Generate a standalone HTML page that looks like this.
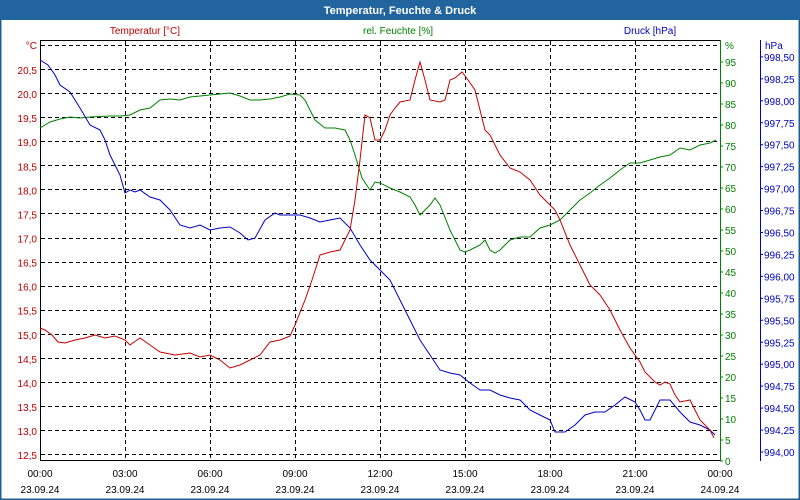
<!DOCTYPE html>
<html><head><meta charset="utf-8"><style>
body{margin:0;background:#fff}
svg{display:block;font-family:"Liberation Sans","DejaVu Sans",sans-serif}
</style></head><body>
<svg width="800" height="500" xmlns="http://www.w3.org/2000/svg" font-size="10">
<rect x="0" y="0" width="800" height="500" fill="#fff"/>
<rect x="0.5" y="0.5" width="799" height="499" fill="none" stroke="#1f5f98" stroke-width="2"/>
<rect x="0" y="0" width="800" height="20" fill="#22649e"/>
<text x="400" y="14" text-anchor="middle" fill="#fff" font-weight="bold" font-size="11">Temperatur, Feuchte &amp; Druck</text>
<text x="145" y="34" text-anchor="middle" fill="#c00000">Temperatur [°C]</text>
<text x="398" y="34" text-anchor="middle" fill="#008000">rel. Feuchte [%]</text>
<text x="650" y="34" text-anchor="middle" fill="#0000c0">Druck [hPa]</text>
<g stroke="#000" stroke-dasharray="4,3" stroke-width="1" fill="none" id="grid"></g>
<line x1="40" y1="40.5" x2="720" y2="40.5" stroke="#000"/>
<line x1="40.5" y1="40" x2="40.5" y2="460" stroke="#000"/>
<line x1="40" y1="460.5" x2="720" y2="460.5" stroke="#000"/>
<line x1="720.5" y1="40" x2="720.5" y2="461" stroke="#008000"/>
<line x1="760.5" y1="40" x2="760.5" y2="461" stroke="#0000c0"/>
<g id="labels"></g>
<g id="series" fill="none" stroke-width="1"></g>
</svg>
<script>
var NS="http://www.w3.org/2000/svg";
function el(p,t,a,txt){var e=document.createElementNS(NS,t);for(var k in a)e.setAttribute(k,a[k]);if(txt!=null)e.textContent=txt;document.getElementById(p).appendChild(e);return e;}
// horizontal grid
for(var i=0;i<18;i++){var y=45+i*24.07;el("grid","line",{x1:41,x2:720,y1:Math.round(y)+.5,y2:Math.round(y)+.5});}
for(var i=1;i<8;i++){var x=40+i*85;el("grid","line",{x1:x+.5,x2:x+.5,y1:41,y2:460});}
// temp labels
el("labels","text",{x:37,y:49,"text-anchor":"end",fill:"#c00000"},"°C");
for(var i=0;i<17;i++){var v=20.5-i*0.5;var y=70+i*24.07;el("labels","text",{x:37,y:y+4,"text-anchor":"end",fill:"#c00000"},v.toFixed(1).replace('.',','));}
el("labels","text",{x:725,y:49,fill:"#008000"},"%");
for(var v=0;v<=95;v+=5){var y=461-v*21/5;el("labels","text",{x:725,y:y+4,fill:"#008000"},String(v));el("labels","line",{x1:720,x2:723,y1:y,y2:y,stroke:"#008000"});}
el("labels","text",{x:765,y:49,fill:"#0000c0"},"hPa");
for(var i=0;i<=18;i++){var v=994+i*0.25;var y=452-i*21.95;el("labels","text",{x:764,y:y+4,fill:"#0000c0"},v.toFixed(2).replace('.',','));el("labels","line",{x1:760,x2:763,y1:y,y2:y,stroke:"#0000c0"});}
var tl=["00:00","03:00","06:00","09:00","12:00","15:00","18:00","21:00","00:00"];
for(var i=0;i<9;i++){var x=40+i*85;el("labels","text",{x:x,y:477,"text-anchor":"middle",fill:"#000"},tl[i]);el("labels","text",{x:x,y:493,"text-anchor":"middle",fill:"#000"},i==8?"24.09.24":"23.09.24");}
function pl(pts,c){el("series","polyline",{points:pts.map(function(p){return p.join(",")}).join(" "),stroke:c});}
pl([[40,128],[50,122],[60,119],[70,117],[80,118],[90,117],[110,116],[120,116],[130,115],[140,110],[150,108],[160,100],[170,99],[180,100],[190,97],[200,96],[210,95],[220,94],[230,93],[240,96],[250,100],[260,100],[270,99],[280,97],[290,94],[300,95],[305,100],[315,120],[325,128],[335,128],[345,130],[350,140],[355,155],[362,178],[370,190],[375,182],[380,183],[390,188],[400,192],[410,197],[415,205],[420,215],[430,205],[435,198],[440,205],[450,230],[455,240],[460,250],[465,252],[470,250],[480,245],[485,240],[490,250],[495,253],[500,250],[510,240],[520,237],[530,237],[540,228],[550,225],[560,220],[570,210],[580,200],[590,193],[600,185],[610,178],[620,170],[630,163],[640,163],[650,160],[660,157],[670,155],[680,148],[690,150],[700,145],[710,143],[716,140]],"#008000");
pl([[40,60],[48,65],[55,75],[60,85],[70,92],[75,100],[80,108],[90,125],[100,130],[105,140],[110,155],[115,165],[120,175],[125,193],[130,190],[135,192],[140,190],[150,197],[160,200],[170,210],[180,225],[190,228],[200,225],[210,230],[220,228],[230,227],[240,233],[248,240],[255,238],[265,220],[275,213],[280,215],[290,215],[300,215],[310,218],[320,222],[330,220],[340,218],[350,228],[360,245],[370,260],[380,270],[390,280],[400,300],[410,320],[420,340],[430,355],[440,370],[450,373],[460,375],[470,383],[480,390],[490,390],[500,395],[510,398],[520,400],[530,410],[540,415],[550,420],[555,432],[565,432],[575,425],[585,415],[595,412],[605,412],[615,405],[625,397],[635,402],[640,410],[645,420],[650,420],[655,410],[660,400],[670,400],[680,412],[690,422],[700,425],[710,430],[715,435]],"#0000c8");
pl([[40,328],[45,330],[52,335],[58,342],[65,343],[75,340],[85,338],[95,335],[105,338],[115,336],[125,340],[130,345],[140,338],[150,345],[160,352],[175,355],[190,353],[200,357],[210,355],[220,360],[230,368],[240,365],[250,360],[260,355],[270,342],[280,340],[290,336],[295,325],[305,300],[312,280],[320,255],[330,252],[340,250],[350,230],[355,200],[360,160],[365,115],[370,118],[375,140],[380,140],[385,130],[390,115],[395,108],[400,102],[410,100],[415,80],[420,62],[425,80],[430,100],[440,102],[445,100],[450,80],[455,78],[462,72],[468,80],[475,90],[480,110],[485,130],[490,135],[500,155],[510,168],[520,172],[530,180],[540,195],[550,205],[555,210],[560,220],[570,245],[580,265],[590,285],[600,295],[610,310],[620,330],[630,348],[640,362],[645,372],[655,382],[660,385],[665,382],[670,384],[675,395],[680,402],[690,400],[695,410],[700,420],[705,425],[710,430],[714,438]],"#c80000");
</script>
</body></html>
